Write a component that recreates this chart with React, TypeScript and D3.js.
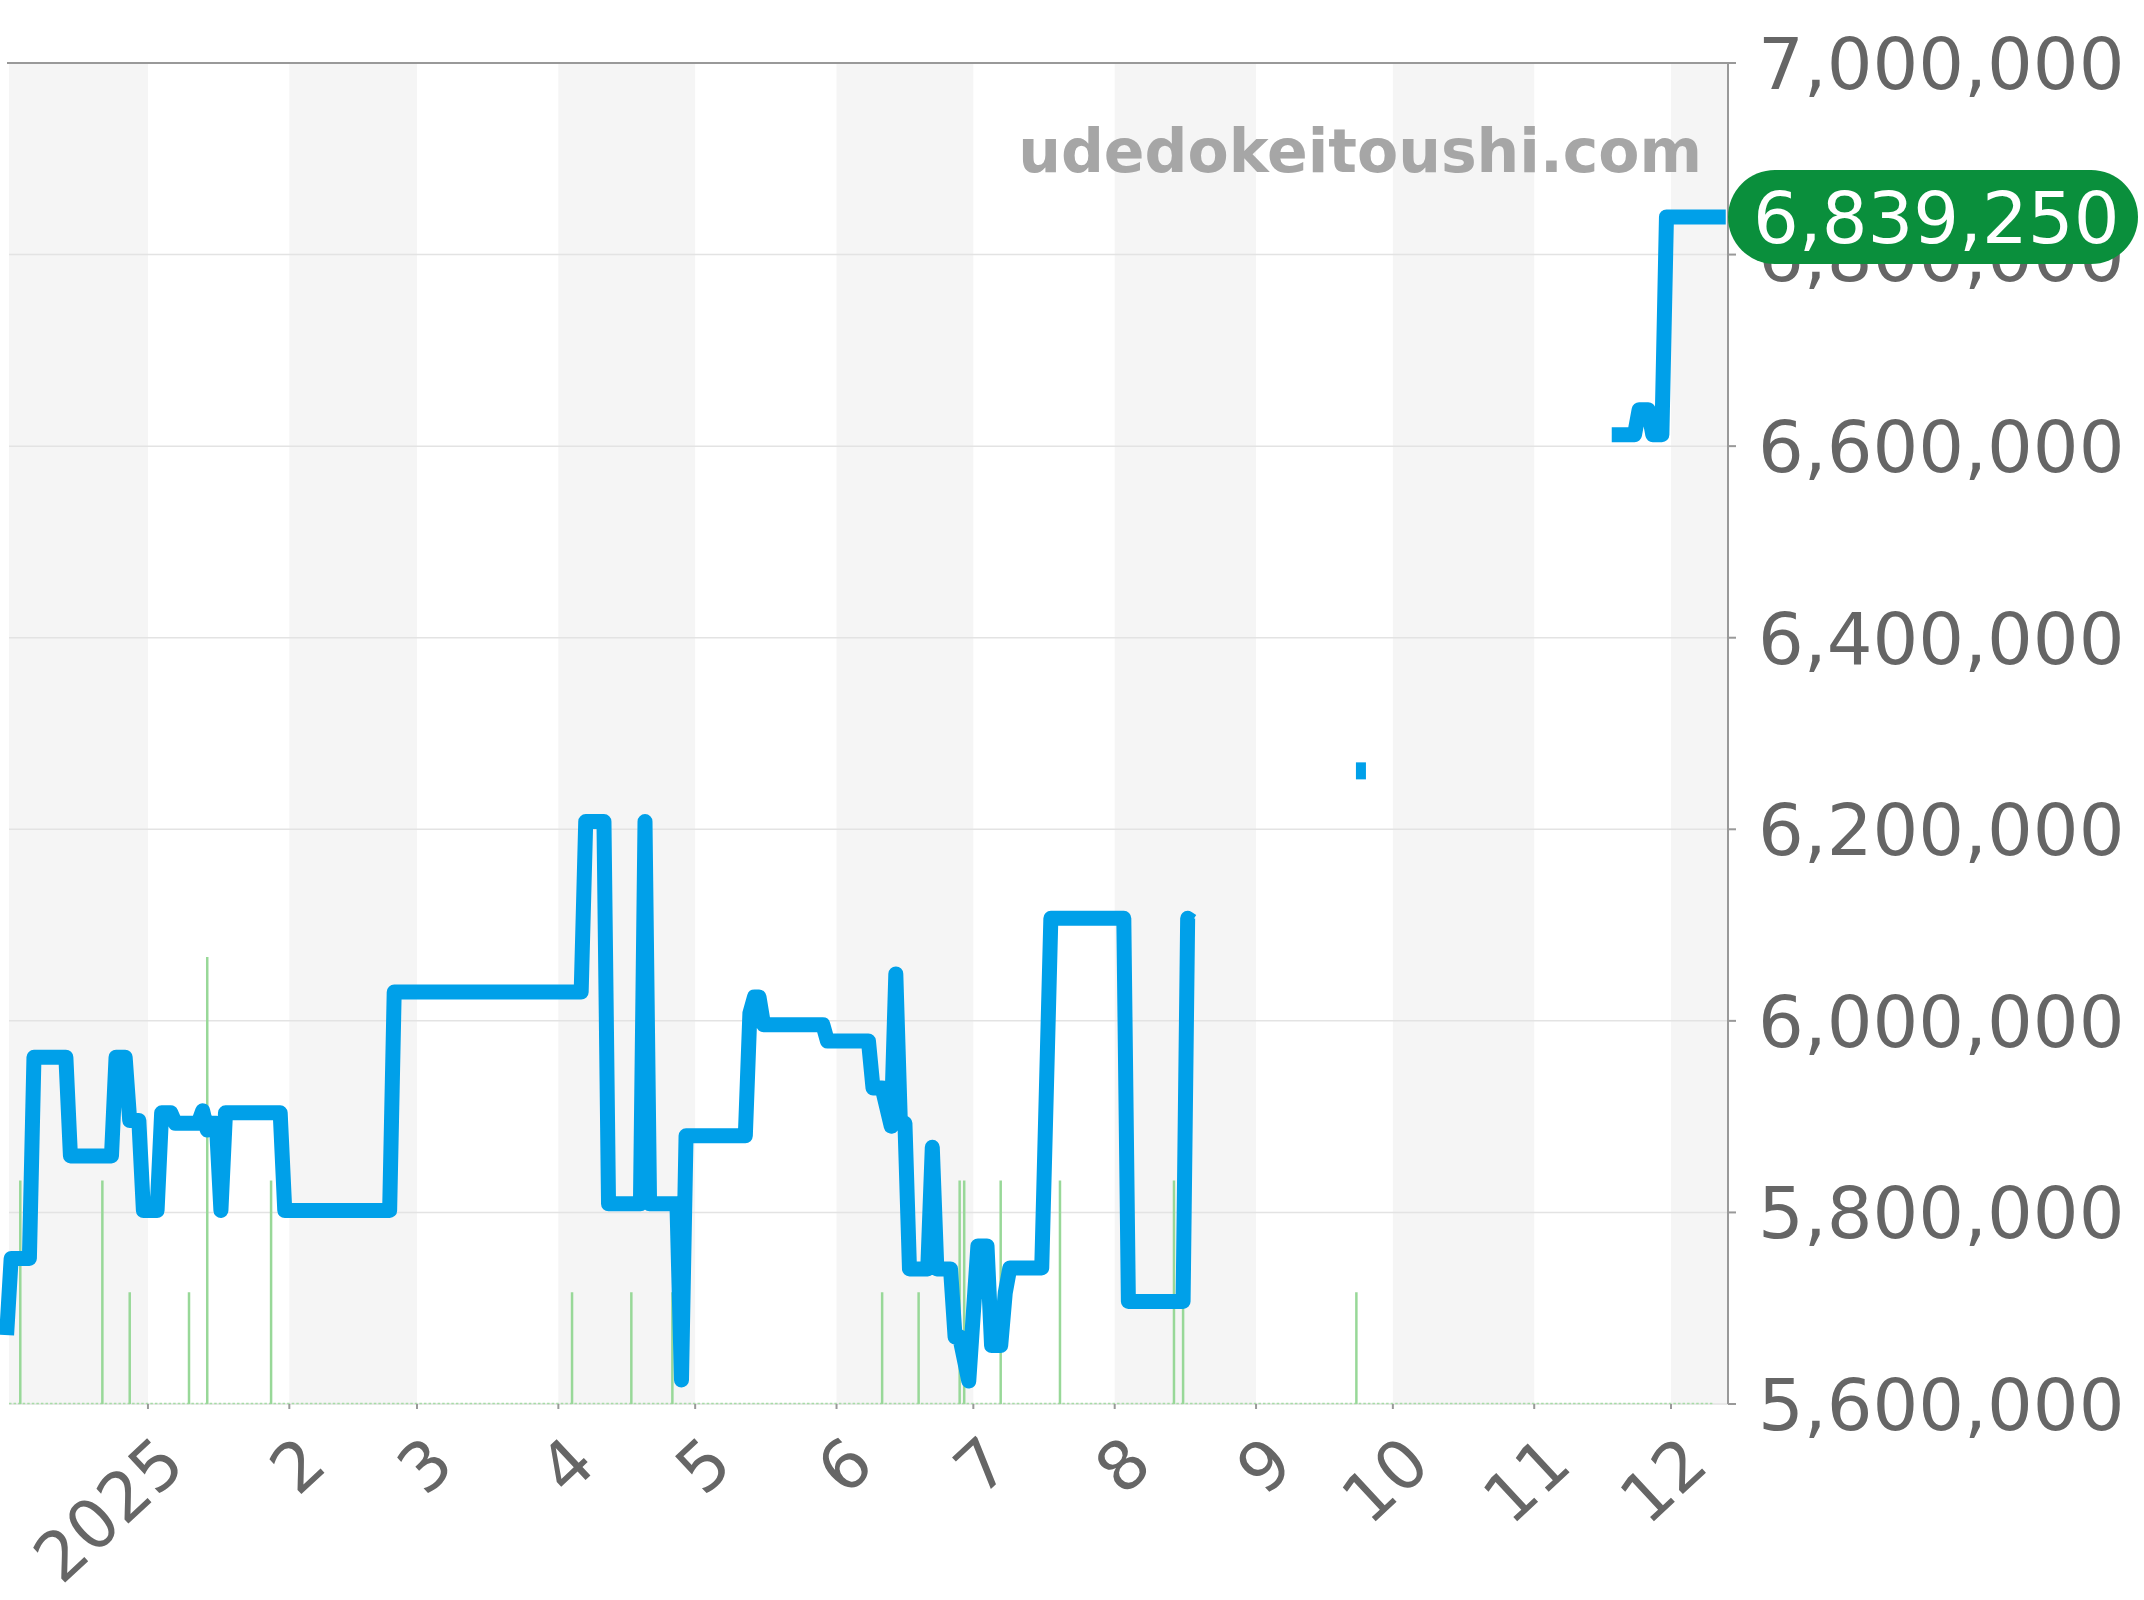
import React from 'react';
import * as d3 from 'd3';

const W = 2144;
const H = 1600;

// price series (null = no data)
const priceDates = [
  '2024-12-01', '2024-12-02', '2024-12-06', '2024-12-07', '2024-12-14', '2024-12-15',
  '2024-12-24', '2024-12-25', '2024-12-27', '2024-12-28', '2024-12-30', '2024-12-31',
  '2025-01-03', '2025-01-04', '2025-01-06', '2025-01-07', '2025-01-12', '2025-01-13',
  '2025-01-14', '2025-01-15', '2025-01-16', '2025-01-17', '2025-01-18', '2025-01-30',
  '2025-01-31', '2025-02-23', '2025-02-24', '2025-04-06', '2025-04-07', '2025-04-11',
  '2025-04-12', '2025-04-19', '2025-04-20', '2025-04-21', '2025-04-27', '2025-04-28',
  '2025-04-29', '2025-05-12', '2025-05-13', '2025-05-14', '2025-05-15', '2025-05-16',
  '2025-05-29', '2025-05-30', '2025-06-08', '2025-06-09', '2025-06-11', '2025-06-13',
  '2025-06-14', '2025-06-15', '2025-06-16', '2025-06-17', '2025-06-21', '2025-06-22',
  '2025-06-23', '2025-06-26', '2025-06-27', '2025-06-28', '2025-06-30', '2025-07-02',
  '2025-07-04', '2025-07-05', '2025-07-07', '2025-07-08', '2025-07-09', '2025-07-16',
  '2025-07-18', '2025-08-03', '2025-08-04', '2025-08-16', '2025-08-17', '2025-08-18',
  '2025-09-01', '2025-09-24', '2025-10-15',
  '2025-11-18', '2025-11-23', '2025-11-24', '2025-11-26', '2025-11-27', '2025-11-29',
  '2025-11-30', '2025-12-13',
];
const priceValues: (number | null)[] = [
  5672000, 5752000, 5752000, 5962000, 5962000, 5859000,
  5859000, 5962000, 5962000, 5896000, 5896000, 5802000,
  5802000, 5904000, 5904000, 5893000, 5893000, 5906000,
  5886000, 5893000, 5893000, 5802000, 5904000, 5904000,
  5802000, 5802000, 6030000, 6030000, 6208000, 6208000,
  5809000, 5809000, 6208000, 5809000, 5809000, 5625000,
  5880000, 5880000, 6008000, 6025000, 6025000, 5996000,
  5996000, 5979000, 5979000, 5930000, 5930000, 5890000,
  6049000, 5893000, 5893000, 5741000, 5741000, 5868000,
  5741000, 5741000, 5670000, 5670000, 5624000, 5765000,
  5765000, 5661000, 5661000, 5716000, 5742000, 5742000,
  6107000, 6107000, 5707000, 5707000, 6107000, 6104000,
  null, 6261000, null,
  6612000, 6612000, 6638000, 6638000, 6612000, 6612000,
  6839250, 6839250,
];

// volume columns
const volumeDates = [
  '2024-12-04', '2024-12-22', '2024-12-28', '2025-01-10', '2025-01-14', '2025-01-28',
  '2025-04-04', '2025-04-17', '2025-04-26', '2025-06-11', '2025-06-19', '2025-06-28',
  '2025-06-29', '2025-07-07', '2025-07-20', '2025-08-14', '2025-08-16', '2025-09-23',
];
const volumeCounts = [2, 2, 1, 1, 4, 2, 1, 1, 1, 1, 1, 2, 2, 2, 2, 2, 1, 1];

const yTicks = [5600000, 5800000, 6000000, 6200000, 6400000, 6600000, 6800000, 7000000];
const monthTicks = [
  '2025-01-01', '2025-02-01', '2025-03-01', '2025-04-01', '2025-05-01', '2025-06-01',
  '2025-07-01', '2025-08-01', '2025-09-01', '2025-10-01', '2025-11-01', '2025-12-01',
];
const monthLabels = ['2025', '2', '3', '4', '5', '6', '7', '8', '9', '10', '11', '12'];
const lastPrice = 6839250;
const watermark = 'udedokeitoushi.com';

const FONT = '"DejaVu Sans", Verdana, sans-serif';

export default function App() {
  const parse = d3.utcParse('%Y-%m-%d');
  const plotLeft = 9;
  const plotRight = 1728;
  const plotTop = 63;
  const plotBottom = 1404;

  const x = d3
    .scaleUtc()
    .domain([parse('2024-12-01') as Date, parse('2025-12-14') as Date])
    .range([6.6, 1730.3]);
  const y = d3.scaleLinear().domain([5600000, 7000000]).range([plotBottom, plotTop]);
  const yVol = d3.scaleLinear().domain([0, 12]).range([plotBottom, plotTop]);

  const pts = priceDates.map((d, i) => ({ t: parse(d) as Date, v: priceValues[i] }));
  const line = d3
    .line<{ t: Date; v: number | null }>()
    .defined((p) => p.v != null)
    .x((p) => x(p.t))
    .y((p) => y(p.v as number));
  const pathD = line(pts) || '';

  const isolated = pts.filter(
    (p, i) =>
      p.v != null &&
      (i === 0 || pts[i - 1].v == null) &&
      (i === pts.length - 1 || pts[i + 1].v == null)
  );

  const ticks = monthTicks.map((d) => parse(d) as Date);
  const bounds = [plotLeft, ...ticks.map((t) => x(t)), plotRight];
  const bands = [] as { x0: number; x1: number; shade: boolean }[];
  for (let i = 0; i < bounds.length - 1; i++) {
    bands.push({ x0: bounds[i], x1: bounds[i + 1], shade: i % 2 === 0 });
  }

  const pillH = 94;
  const pillY = y(lastPrice);

  return (
    <svg
      width={W}
      height={H}
      viewBox={`0 0 ${W} ${H}`}
      style={{ position: 'absolute', left: 0, top: 0, background: '#fff' }}
    >
      {/* bands */}
      {bands.map((b, i) =>
        b.shade ? (
          <rect key={'b' + i} x={b.x0} y={plotTop} width={b.x1 - b.x0} height={plotBottom - plotTop} fill="#f5f5f5" />
        ) : null
      )}
      {/* grid */}
      {yTicks.map((t) =>
        t === 7000000 ? null : (
          <line key={'g' + t} x1={plotLeft} x2={plotRight} y1={y(t)} y2={y(t)} stroke="#e3e3e3" strokeWidth={1.5} />
        )
      )}
      <line x1={plotLeft - 2} x2={plotRight} y1={plotTop} y2={plotTop} stroke="#999" strokeWidth={2} />

      {/* baseline dotted (zero volume) */}
      <line
        x1={plotLeft}
        x2={1713}
        y1={plotBottom - 0.5}
        y2={plotBottom - 0.5}
        stroke="#a6dca6"
        strokeWidth={1.5}
        strokeDasharray="2.5 2.06"
      />

      {/* volume columns */}
      {volumeDates.map((d, i) => {
        const xx = x(parse(d) as Date);
        return (
          <line
            key={'v' + i}
            x1={xx}
            x2={xx}
            y1={plotBottom}
            y2={yVol(volumeCounts[i])}
            stroke="#98d898"
            strokeWidth={2.5}
          />
        );
      })}

      {/* price line */}
      <path d={pathD} fill="none" stroke="#00a0e9" strokeWidth={15} strokeLinejoin="round" strokeLinecap="butt" />
      {isolated.map((p, i) => (
        <rect key={'iso' + i} x={x(p.t) - 5} y={y(p.v as number) - 8.5} width={10} height={17} fill="#00a0e9" />
      ))}

      {/* right axis */}
      <line x1={plotRight} x2={plotRight} y1={plotTop} y2={plotBottom} stroke="#999" strokeWidth={2} />
      {yTicks.map((t) => (
        <g key={'yt' + t}>
          <line x1={plotRight} x2={plotRight + 8} y1={y(t)} y2={y(t)} stroke="#999" strokeWidth={2} />
          <text x={1758} y={y(t) + 26} fontFamily={FONT} fontSize={72} fill="#666666">
            {d3.format(',')(t)}
          </text>
        </g>
      ))}

      {/* x axis ticks and labels */}
      {ticks.map((t, i) => {
        const xx = x(t);
        const ax = xx + 40;
        const ay = 1468;
        return (
          <g key={'xt' + i}>
            <line x1={xx} x2={xx} y1={plotBottom} y2={plotBottom + 5} stroke="#999" strokeWidth={2} />
            <text
              x={ax}
              y={ay}
              textAnchor="end"
              fontFamily={FONT}
              fontSize={68}
              fill="#666666"
              transform={`rotate(-43 ${ax} ${ay})`}
            >
              {monthLabels[i]}
            </text>
          </g>
        );
      })}

      {/* watermark */}
      <text x={1702} y={172} textAnchor="end" fontFamily={FONT} fontWeight="bold" fontSize={60} fill="#a6a6a6">
        {watermark}
      </text>

      {/* last price pill */}
      <rect x={1728} y={pillY - pillH / 2} width={410} height={pillH} rx={pillH / 2} ry={pillH / 2} fill="#0a8f3c" />
      <text x={1753} y={pillY + 26} fontFamily={FONT} fontSize={72} fill="#ffffff">
        {d3.format(',')(lastPrice)}
      </text>
    </svg>
  );
}
